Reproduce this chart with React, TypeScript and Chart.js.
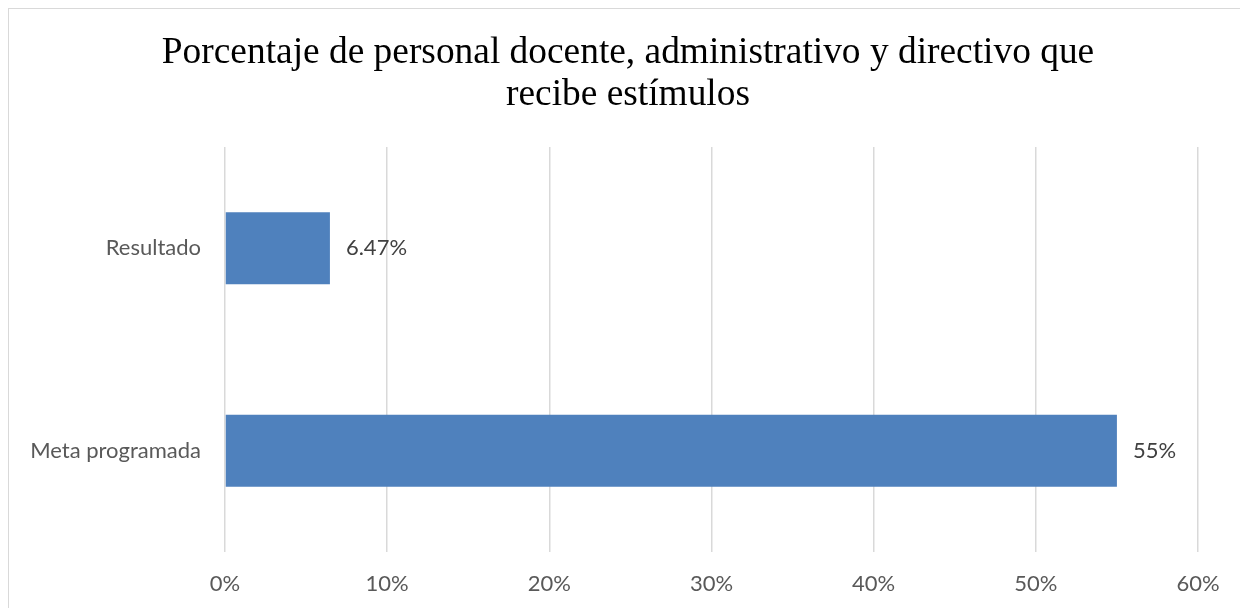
import React, { useEffect, useRef } from "react";
import { Chart, registerables } from "chart.js";

Chart.register(...registerables);

const categories = ["Resultado", "Meta programada"];
const values = [6.47, 55];
const valueLabels = ["6.47%", "55%"];
const titleLines = ["Porcentaje de personal docente, administrativo y directivo que", "recibe estímulos"];
const xMin = 0;
const xMax = 60;
const xStep = 10;

const TICK_FONT = "Lato, 'Liberation Sans', sans-serif";

const dataLabelPlugin = {
  id: "dataLabels",
  afterDatasetsDraw(chart: any) {
    const ctx = chart.ctx;
    const meta = chart.getDatasetMeta(0);
    ctx.save();
    ctx.font = `22px ${TICK_FONT}`;
    ctx.fillStyle = "#404040";
    ctx.textAlign = "left";
    ctx.textBaseline = "middle";
    meta.data.forEach((bar: any, i: number) => {
      ctx.fillText(valueLabels[i], bar.x + 16, bar.y);
    });
    ctx.restore();
  },
};

const titlePlugin = {
  id: "customTitle",
  afterDraw(chart: any) {
    const ctx = chart.ctx;
    ctx.save();
    ctx.font = "37.4px 'Liberation Serif', 'Times New Roman', serif";
    ctx.fillStyle = "#000000";
    ctx.textAlign = "center";
    ctx.textBaseline = "alphabetic";
    const cx = chart.width / 2 + 0.5;
    titleLines.forEach((line, i) => {
      ctx.fillText(line, cx, 54 + i * 42);
    });
    ctx.restore();
  },
};

export default function App() {
  const ref = useRef<HTMLCanvasElement>(null);

  useEffect(() => {
    document.documentElement.style.overflow = "hidden";
    document.body.style.overflow = "hidden";
    const chart = new Chart(ref.current!, {
      type: "bar",
      data: {
        labels: categories,
        datasets: [
          {
            data: values,
            backgroundColor: "#4f81bd",
            borderWidth: 0,
            barPercentage: 0.356,
            categoryPercentage: 1,
          },
        ],
      },
      options: {
        indexAxis: "y",
        animation: false,
        responsive: true,
        maintainAspectRatio: false,
        layout: { padding: { left: 0, right: 48, top: 138, bottom: 0 } },
        plugins: {
          legend: { display: false },
          tooltip: { enabled: false },
          title: { display: false },
        },
        scales: {
          x: {
            min: xMin,
            max: xMax,
            ticks: {
              stepSize: xStep,
              color: "#595959",
              font: { family: TICK_FONT, size: 22 },
              padding: 19,
              callback: (v: any) => `${v}%`,
            },
            grid: { color: "#d9d9d9", lineWidth: 1.5, drawTicks: false },
            border: { display: false },
            afterFit: (scale: any) => {
              scale.height = 57;
            },
          },
          y: {
            ticks: {
              color: "#595959",
              font: { family: TICK_FONT, size: 22 },
              padding: 24,
            },
            grid: { display: false, drawTicks: false },
            border: { display: false },
            afterFit: (scale: any) => {
              scale.width = 216;
            },
          },
        },
      },
      plugins: [dataLabelPlugin, titlePlugin],
    });
    return () => chart.destroy();
  }, []);

  return (
    <div
      style={{
        boxSizing: "border-box",
        width: 1239,
        height: 620,
        border: "1px solid #d9d9d9",
        background: "#ffffff",
      }}
    >
      <div style={{ position: "relative", width: 1237, height: 600 }}>
        <canvas ref={ref} />
      </div>
    </div>
  );
}
